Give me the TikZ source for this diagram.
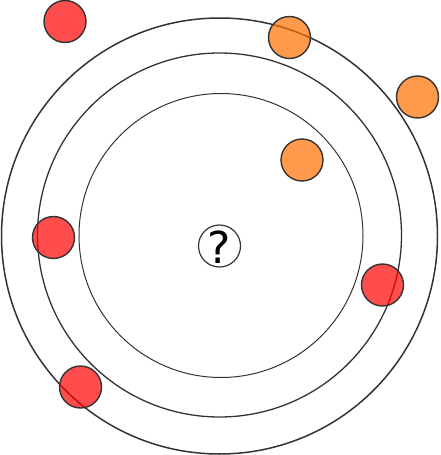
\documentclass[tikz,border=0pt]{standalone}
\usepackage{fontspec}
\setmainfont{DejaVu Sans}
\definecolor{ringc}{HTML}{333333}
\definecolor{redbase}{RGB}{255,0,0}
\definecolor{orangebase}{RGB}{255,111,0}
\begin{document}
\begin{tikzpicture}[x=1pt,y=-1pt,
  ring/.style={circle, draw=ringc, inner sep=0pt, line width=#1},
  ball/.style={circle, draw=ringc, line width=1.4pt, inner sep=0pt, minimum size=42pt, fill=#1, fill opacity=0.7}]
\useasboundingbox (0,0) rectangle (440,455);
\node[ring=1.5pt, minimum size=436pt] (outer) at (219.5,236) {};
\node[ring=1.3pt, minimum size=364pt] (middle) at (219.5,235) {};
\node[ring=1.0pt, minimum size=284pt] (inner) at (221,235.5) {};
\node[ring=1.2pt, minimum size=42pt] (core) at (219.5,246) {};
\node[font=\fontsize{44}{44}\selectfont, inner sep=0pt] (qm) at (219.5,247) {?};
\node[ball=redbase] (r1) at (65,21.5) {};
\node[ball=redbase] (r2) at (53.5,237.5) {};
\node[ball=redbase] (r3) at (80.5,387) {};
\node[ball=redbase] (r4) at (382.5,285) {};
\node[ball=orangebase] (o1) at (289.5,37.5) {};
\node[ball=orangebase] (o2) at (417.5,97) {};
\node[ball=orangebase] (o3) at (302,160) {};
\end{tikzpicture}
\end{document}
